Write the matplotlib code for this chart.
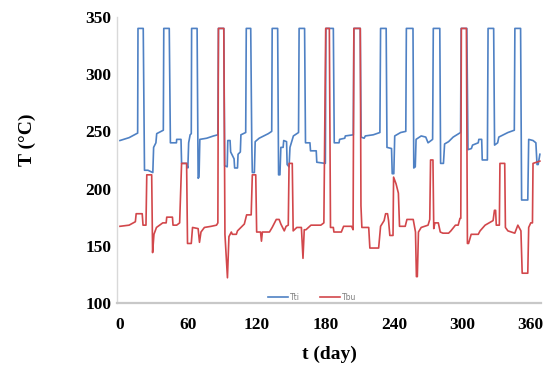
import matplotlib
matplotlib.use("Agg")
import matplotlib.pyplot as plt

# daily temperatures (day, °C)
tti_day = [0, 8, 15.5, 15.8, 20.0, 20.4, 21.5, 24.5, 28.8, 29.5, 31.5, 32.2, 36, 38,
           38.4, 43.2, 44.2, 49.5, 49.7, 53.5, 54, 58.4, 59.5, 60.2, 61.5, 62.5,
           62.8, 67.6, 68.5, 69.3, 70, 76, 82, 85.8,
           86.3, 91, 91.8, 94, 94.5, 96.5, 97, 100, 100.5, 103, 103.5, 105.5, 106, 110.2,
           110.7, 114.6, 115.5, 116, 117.8, 118.5, 122, 126, 130, 133,
           133.4, 138.2, 139, 140.2, 141, 143, 143.5, 146, 146.5, 148.2, 149, 152, 156.5,
           157, 161.8, 162.6, 166.5, 167, 172, 172.5, 180,
           180.5, 187, 187.8, 192, 192.5, 197, 197.5, 204.5,
           205, 210.6, 211.3, 214, 215, 222, 227.8,
           228.4, 233.3, 234, 238, 238.6, 240, 240.8, 246, 250.5,
           251, 256.8, 257.5, 258.8, 259.5, 264, 268, 270, 274,
           274.6, 280.3, 281, 283.5, 284.5, 288, 292, 298.5,
           299, 304, 305, 308, 309, 314, 314.5, 317, 317.5, 322,
           322.6, 327.5, 328.3, 331, 332, 336, 340, 345.6,
           346.1, 351.1, 352, 357.4, 358.2, 362, 364.5, 365.5, 366.5, 368]
tti_val = [242, 244.5, 248.5, 340, 340, 340, 216, 216, 214, 236, 240, 248, 250, 251,
           340, 340, 240, 240, 243, 243, 222, 222, 218, 240, 247, 248,
           340, 340, 209, 210, 243, 244, 246, 247,
           340, 340, 220, 219, 242, 242, 232, 226, 218, 218, 230, 232, 247, 249,
           340, 340, 241, 214, 214, 241, 244, 246, 248, 250,
           340, 340, 212, 212, 236, 236, 242, 241, 221, 219, 236, 246, 249,
           340, 340, 240, 240, 233, 233, 223, 222,
           340, 340, 240, 240, 243, 244, 246, 247,
           340, 340, 245, 244, 246, 247, 249,
           340, 340, 236, 235, 213, 213, 246, 249, 250,
           340, 340, 218, 219, 243, 246, 245, 240, 243,
           340, 340, 222, 222, 239, 241, 245, 249,
           340, 340, 234, 235, 238, 240, 243, 243, 225, 225,
           340, 340, 238, 240, 245, 247, 249, 251,
           340, 340, 190, 190, 243, 242, 240, 221, 221, 230]

tbu_day = [0, 8, 13.5, 14.2, 19.5, 20.2, 22.8, 23.5, 27.8, 28.6, 29.8, 32, 37.5, 40.5,
           41, 46, 46.5, 49.7, 52.3, 54, 58.4, 59.2, 62.5, 63.6, 68.5, 69.7, 71, 74,
           80, 84.6, 85.8,
           86.3, 91, 92, 94.2, 95.5, 97.6, 98.5, 102, 103, 106, 109, 111, 115,
           116, 119, 119.8, 123.2, 124, 124.8, 131, 133.4, 137, 139.5, 141, 144, 145.6,
           147.5, 148.2, 151, 151.8, 155, 159, 160.4, 161.5, 163, 167.4, 176, 178.7,
           180.3, 183.5, 184.5, 187, 187.5, 194, 196, 203, 204.3,
           205, 210.6, 211.2, 212, 218, 219, 226.7, 228.4, 231.5, 232.8, 234.5, 235.4,
           236.5, 239.3, 239.8, 242, 244, 245, 250, 251.5, 257, 259, 259.8, 260.6,
           261.6, 264, 270, 271.5, 272.2, 274.3, 275, 276, 279, 280.7, 283, 288, 290,
           294, 296.4, 298, 298.7,
           299.2, 303.6, 304.5, 305.5, 307.8, 314, 315.6, 320, 327, 328.2, 329.2,
           329.8, 332.5, 333, 337.2, 337.8, 340, 346, 348.7, 351.4, 352.5, 357.4,
           358.2, 360, 361.5, 362, 368]
tbu_val = [167, 168, 171, 178, 178, 168, 168, 212, 212, 144, 160, 166, 170, 170,
           175, 175, 168, 168, 170, 222, 222, 152, 152, 166, 165, 153, 162, 166,
           167, 168, 170,
           340, 340, 160, 122, 158, 162, 160, 160, 163, 166, 169, 177, 177,
           212, 212, 162, 162, 154, 162, 162, 166, 173, 173, 169, 163, 167,
           168, 222, 222, 163, 166, 166, 139, 164, 164, 168, 168, 170,
           340, 340, 166, 166, 162, 162, 167, 167, 164,
           340, 340, 185, 166, 166, 148, 148, 167, 172, 178, 178, 172,
           159, 159, 210, 204, 196, 167, 167, 173, 173, 162, 123, 123,
           162, 166, 168, 173, 225, 225, 165, 170, 170, 162, 161, 161, 163,
           168, 168, 174, 174,
           340, 340, 152, 152, 160, 160, 163, 168, 172, 181, 181,
           168, 168, 222, 222, 166, 163, 161, 168, 163, 126, 126,
           166, 170, 170, 222, 224]

y_ticks = [100, 150, 200, 250, 300, 350]
x_ticks = [0, 60, 120, 180, 240, 300, 360]

fig = plt.figure(figsize=(5.55, 3.69), dpi=100)
ax = fig.add_axes([0.2108, 0.179, 0.764, 0.775])

ax.plot(tti_day, tti_val, color="#4f81c4", lw=1.2, label="Tti")
ax.plot(tbu_day, tbu_val, color="#d2474b", lw=1.2, label="Tbu")

ax.set_xlim(-2.6, 369)
ax.set_ylim(100, 350)
ax.set_xticks(x_ticks)
ax.set_yticks(y_ticks)

bold = dict(family="Liberation Serif", weight="bold")
ax.set_xticklabels([str(t) for t in x_ticks], fontsize=12.5, **bold)
ax.set_yticklabels([str(t) for t in y_ticks], fontsize=12.5, **bold)
ax.tick_params(axis="x", length=0, pad=10)
ax.tick_params(axis="y", length=0, pad=4)

ax.set_xlabel("t (day)", fontsize=14, **bold)
ax.set_ylabel("T (°C)", fontsize=14, **bold)
ax.xaxis.set_label_coords(0.5, -0.15)
ax.yaxis.set_label_coords(-0.19, 0.57)

for side in ["top", "right"]:
    ax.spines[side].set_visible(False)
ax.spines["left"].set_color("#d9d9d9")
ax.spines["left"].set_linewidth(1.0)
ax.spines["bottom"].set_color("#c8c8c8")
ax.spines["bottom"].set_linewidth(1.6)

leg = ax.legend(loc="lower center", bbox_to_anchor=(0.46, -0.02), ncol=2,
                frameon=False, fontsize=5.5, handlelength=2.6, columnspacing=2.6,
                handletextpad=0.3)
for t in leg.get_texts():
    t.set_color("#7f7f7f")

fig.savefig("out.png", dpi=100)
